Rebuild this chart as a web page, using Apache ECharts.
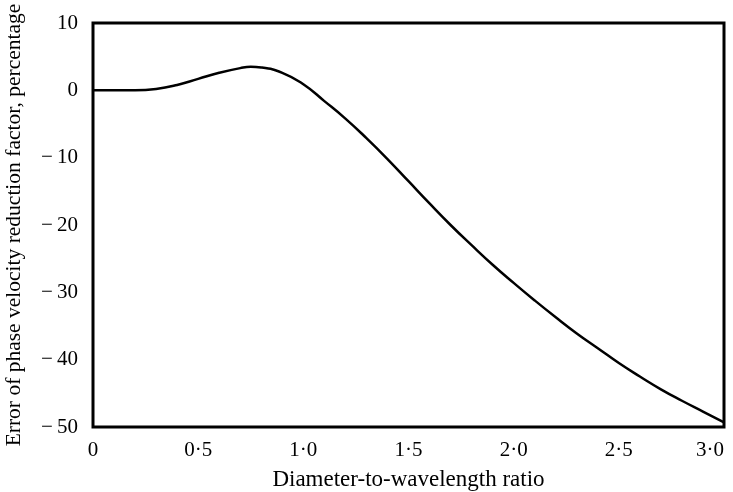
<!DOCTYPE html>
<html>
<head>
<meta charset="utf-8">
<script src="https://cdn.jsdelivr.net/npm/echarts@6/dist/echarts.min.js"></script>
<style>html,body{margin:0;padding:0;background:#fff}#c{width:733px;height:492px}</style>
</head>
<body>
<div id="c"></div>
<script>
const xValues = [0, 0.1, 0.2, 0.3, 0.4, 0.5, 0.6, 0.7, 0.75, 0.8, 0.9, 1.0, 1.1, 1.2, 1.3, 1.4, 1.5, 1.6, 1.7, 1.8, 1.9, 2.0, 2.1, 2.2, 2.3, 2.4, 2.5, 2.6, 2.7, 2.8, 2.9, 3.0];
const errorValues = [0, 0, 0, 0.2, 0.8, 1.7, 2.6, 3.3, 3.5, 3.4, 2.6, 0.9, -1.6, -4.2, -7.1, -10.2, -13.5, -16.8, -20.0, -23.0, -25.9, -28.6, -31.2, -33.7, -36.1, -38.3, -40.5, -42.5, -44.4, -46.1, -47.7, -49.3];
const xTickLabels = ['0', '0·5', '1·0', '1·5', '2·0', '2·5', '3·0'];
const yTickLabels = ['−\u200950', '−\u200940', '−\u200930', '−\u200920', '−\u200910', '0', '10'];
const xTitle = 'Diameter-to-wavelength ratio';
const yTitle = 'Error of phase velocity reduction factor, percentage';

const font = 'Liberation Serif';
const chart = echarts.init(document.getElementById('c'));
chart.setOption({
  animation: false,
  backgroundColor: '#fff',
  grid: { left: 93, right: 9, top: 23, bottom: 65, outerBoundsMode: 'none', containLabel: false,
    show: true, borderColor: '#000', borderWidth: 3, backgroundColor: 'transparent' },
  xAxis: {
    type: 'value', min: 0, max: 3, interval: 0.5,
    name: xTitle, nameLocation: 'middle', nameGap: 41,
    nameTextStyle: { fontFamily: font, fontSize: 23, color: '#000' },
    axisLine: { show: false }, axisTick: { show: false }, splitLine: { show: false },
    axisLabel: { margin: 13, fontFamily: font, fontSize: 21, color: '#000', alignMaxLabel: 'right',
      formatter: v => xTickLabels[Math.round(v / 0.5)] }
  },
  yAxis: {
    type: 'value', min: -50, max: 10, interval: 10,
    name: yTitle, nameLocation: 'middle', nameGap: 68,
    nameTextStyle: { fontFamily: font, fontSize: 21.5, color: '#000' },
    axisLine: { show: false }, axisTick: { show: false }, splitLine: { show: false },
    axisLabel: { margin: 15, fontFamily: font, fontSize: 21, color: '#000',
      formatter: v => yTickLabels[Math.round((v + 50) / 10)] }
  },
  series: [{
    type: 'line', smooth: 0.5, symbol: 'none',
    lineStyle: { color: '#000', width: 2.5 },
    data: xValues.map((x, i) => [x, errorValues[i]])
  }]
});
</script>
</body>
</html>
